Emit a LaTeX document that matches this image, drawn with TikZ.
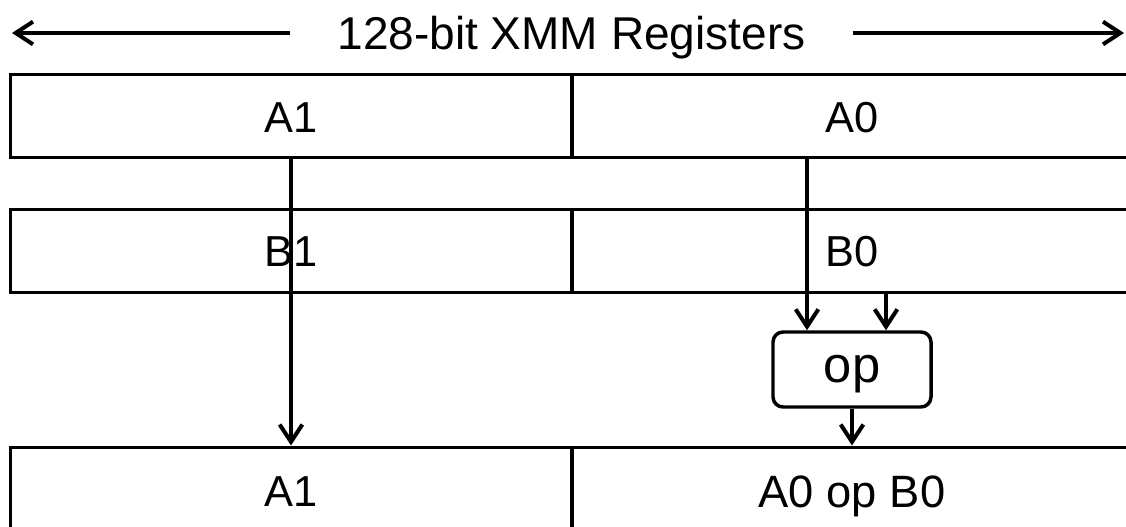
\documentclass[tikz,border=0pt]{standalone}
\usepackage{fontspec}
\setmainfont{Liberation Sans}
\usetikzlibrary{arrows.meta}
\tikzset{
  label font/.style={font=\fontsize{32.5}{39}\selectfont, text height=23.3pt, text depth=0pt},
  cell/.style={draw, line width=2.25pt, rectangle, inner sep=0pt,
    minimum width=421.5pt, minimum height=62.25pt, label font},
  lastcell/.style={cell, minimum height=66pt},
  opbox/.style={draw, line width=2.6pt, rounded corners=7.5pt, inner sep=0pt,
    minimum width=118.5pt, minimum height=56.25pt,
    font=\fontsize{38}{45}\selectfont, text height=19.7pt, text depth=0pt},
  arr/.style={line width=3pt, -{Straight Barb[length=13pt, width=17pt, line width=3pt]}},
}
\begin{document}
\begin{tikzpicture}[x=0.75pt, y=-0.75pt]
  \clip (0,0) rectangle (1126,527);
  \fill[white] (0,0) rectangle (1126,527);

  % width label with arrows
  \node[inner sep=0pt, minimum width=422pt, font=\fontsize{34.5}{41}\selectfont,
        text height=24.7pt, text depth=0pt]
    (title) at (571.5,33) {128-bit XMM Registers};
  \coordinate (wl) at (12,33);
  \coordinate (wr) at (1124,33);
  \draw[arr] (title.west) -- (wl);
  \draw[arr] (title.east) -- (wr);

  % register A
  \node[cell] (a1) at (291,116.5) {A1};
  \node[cell] (a0) at (852,116.5) {A0};
  % register B
  \node[cell] (b1) at (291,251) {B1};
  \node[cell] (b0) at (852,251) {B0};
  % result register
  \node[lastcell] (r1) at (291,491) {A1};
  \node[lastcell, font=\fontsize{34}{41}\selectfont, text height=24.3pt] (r0) at (852,491) {A0 op B0};

  % operation
  \node[opbox] (op) at (852,369.5) {op};
  \coordinate (ina) at (807,0);
  \coordinate (inb) at (886,0);

  \draw[arr] (a1.south) -- (r1.north);
  \draw[arr] (a0.south -| ina) -- (op.north -| ina);
  \draw[arr] (b0.south -| inb) -- (op.north -| inb);
  \draw[arr] (op.south) -- (r0.north);
\end{tikzpicture}
\end{document}
